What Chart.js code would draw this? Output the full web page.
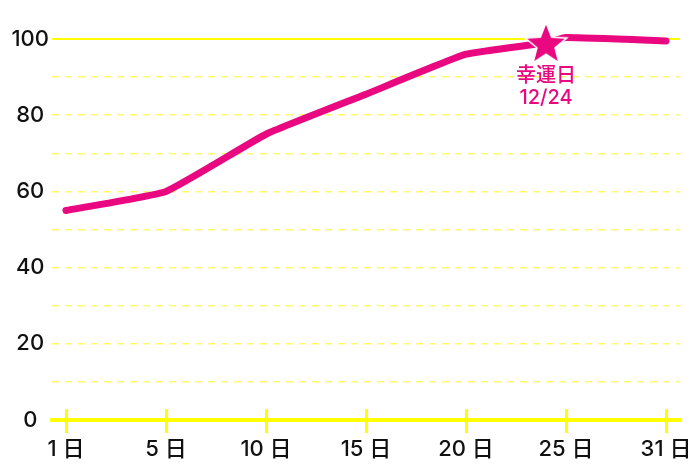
<!DOCTYPE html>
<html><head><meta charset="utf-8">
<script src="https://cdn.jsdelivr.net/npm/chart.js@4.4.1/dist/chart.umd.min.js"></script>
<style>html,body{margin:0;padding:0;background:#fff}#wrap{width:700px;height:467px}</style>
</head><body><div id="wrap"><canvas id="c"></canvas></div>
<script>
const tickDays = [1, 5, 10, 15, 20, 25, 31];
const tickLabels = ['1 日', '5 日', '10 日', '15 日', '20 日', '25 日', '31 日'];
const pointDays = [1, 5, 10, 15, 20, 24, 25, 31];
const pointValues = [55, 60, 75, 85.5, 96, 99, 100.4, 99.5];
const yTicks = [0, 10, 20, 30, 40, 50, 60, 70, 80, 90, 100];
const luckyIndex = 5;
const luckyLines = ['幸運日', '12/24'];

const PINK = '#e9087f';
const FONT = 'Inter, "Noto Sans CJK JP", sans-serif';

function dayPos(d) {
  for (let i = 0; i < tickDays.length - 1; i++) {
    if (d <= tickDays[i + 1]) return i + (d - tickDays[i]) / (tickDays[i + 1] - tickDays[i]);
  }
  return tickDays.length - 1;
}

// star image
const starCanvas = document.createElement('canvas');
const S = 48; starCanvas.width = S; starCanvas.height = S;
(function () {
  const g = starCanvas.getContext('2d');
  const cx = S / 2, cy = S / 2 + 2, R = 22, r = 9.5;
  g.beginPath();
  for (let k = 0; k < 10; k++) {
    const ang = -Math.PI / 2 + k * Math.PI / 5;
    const rad = k % 2 === 0 ? R : r;
    const px = cx + rad * Math.cos(ang), py = cy + rad * Math.sin(ang);
    k === 0 ? g.moveTo(px, py) : g.lineTo(px, py);
  }
  g.closePath();
  g.fillStyle = PINK; g.fill();
  g.lineWidth = 1.5; g.strokeStyle = '#ffffff'; g.lineJoin = 'miter'; g.stroke();
})();

const points = pointDays.map((d, i) => ({ x: dayPos(d), y: pointValues[i] }));

const xTickMarks = {
  id: 'xTickMarks',
  afterDraw(chart) {
    const { ctx, scales } = chart;
    const xs = scales.x, y0 = scales.y.getPixelForValue(0);
    ctx.save();
    ctx.strokeStyle = '#ffff00';
    ctx.lineWidth = 3;
    xs.ticks.forEach(t => {
      const px = Math.round(xs.getPixelForValue(t.value)) + 0.5;
      ctx.beginPath(); ctx.moveTo(px, y0 - 11); ctx.lineTo(px, y0 + 13); ctx.stroke();
    });
    ctx.restore();
  }
};

const luckyLabel = {
  id: 'luckyLabel',
  afterDatasetsDraw(chart) {
    const el = chart.getDatasetMeta(0).data[luckyIndex];
    const { ctx } = chart;
    ctx.save();
    ctx.fillStyle = PINK;
    ctx.font = '500 20px ' + FONT;
    ctx.textAlign = 'center';
    ctx.textBaseline = 'middle';
    ctx.fillText(luckyLines[0], el.x, el.y + 33);
    ctx.fillText(luckyLines[1], el.x, el.y + 55);
    ctx.restore();
  }
};

new Chart(document.getElementById('c'), {
  type: 'line',
  data: {
    datasets: [{
      data: points,
      borderColor: PINK,
      borderWidth: 7,
      borderCapStyle: 'round',
      borderJoinStyle: 'round',
      tension: 0.12,
      clip: false,
      pointRadius: ctx => ctx.dataIndex === luckyIndex ? 22 : 0,
      pointHoverRadius: ctx => ctx.dataIndex === luckyIndex ? 22 : 0,
      pointStyle: ctx => ctx.dataIndex === luckyIndex ? starCanvas : 'circle',
      pointBackgroundColor: PINK,
      pointBorderWidth: 0
    }]
  },
  options: {
    responsive: true,
    maintainAspectRatio: false,
    animation: false,
    events: [],
    layout: { padding: { top: 39, right: 20, left: 0, bottom: 0 } },
    plugins: { legend: { display: false }, tooltip: { enabled: false } },
    scales: {
      x: {
        type: 'linear',
        min: -0.14,
        max: tickDays.length - 1 + 0.14,
        afterBuildTicks: s => { s.ticks = tickDays.map((d, i) => ({ value: i })); },
        afterFit: s => { s.height = 47; s.paddingLeft = 0; s.paddingRight = 0; },
        grid: { display: false, drawTicks: false },
        border: { display: true, color: '#ffff00', width: 4 },
        ticks: {
          padding: 16,
          color: '#111',
          font: { family: FONT, size: 22, weight: '500' },
          autoSkip: false,
          maxRotation: 0,
          callback: v => tickLabels[v] ?? ''
        }
      },
      y: {
        type: 'linear',
        min: 0,
        max: 100,
        afterBuildTicks: s => { s.ticks = yTicks.map(v => ({ value: v })); },
        afterFit: s => { s.width = 52; },
        grid: {
          drawTicks: false,
          color: c => c.tick.value === 0 ? 'rgba(0,0,0,0)' : (c.tick.value === 100 ? '#ffff00' : '#fcfc6c'),
          lineWidth: c => c.tick.value === 100 ? 2 : 1.5
        },
        border: { display: false, dash: c => (c.tick && c.tick.value === 100) ? [] : [7, 6] },
        ticks: {
          padding: 3,
          crossAlign: 'center',
          color: '#111',
          font: { family: FONT, size: 22, weight: '500' },
          callback: v => (v % 20 === 0 ? String(v) : '')
        }
      }
    }
  },
  plugins: [xTickMarks, luckyLabel]
});
</script></body></html>
